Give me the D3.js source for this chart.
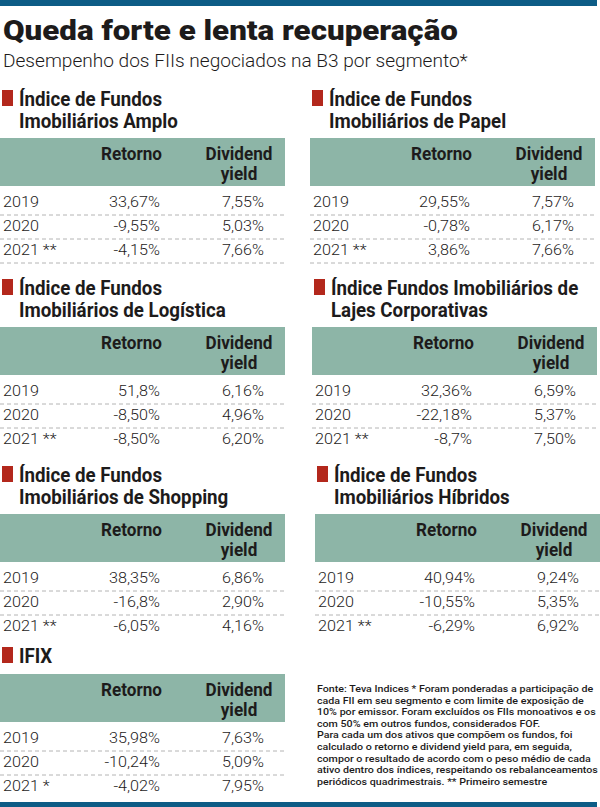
<!DOCTYPE html>
<html>
<head>
<meta charset="utf-8">
<script src="https://cdn.jsdelivr.net/npm/d3@7"></script>
<style>
	body { margin: 0; background: #fff; }
	svg text { fill: #1d1b1b; font-family: Roboto, "Noto Sans", sans-serif; }
	.title { font-size: 27px; font-weight: 900; }
	.sub { font-size: 19px; font-weight: 300; }
	.head { font-size: 19.5px; font-weight: 700; }
	.colh { font-size: 18px; font-weight: 700; }
	.cell { font-size: 15.5px; font-weight: 300; }
	.note { font-size: 9.9px; font-weight: 500; }
</style>
</head>
<body>
<svg id="chart" width="600" height="807"></svg>
<script>
'use strict';

// data
var years = ['2019', '2020', '2021 **'];
var yearsIfix = ['2019', '2020', '2021 *'];
var columns = ['Retorno', 'Dividend yield'];

var titleAmplo = ['Índice de Fundos', 'Imobiliários Amplo'];
var retAmplo = ['33,67%', '-9,55%', '-4,15%'];
var dyAmplo = ['7,55%', '5,03%', '7,66%'];

var titlePapel = ['Índice de Fundos', 'Imobiliários de Papel'];
var retPapel = ['29,55%', '-0,78%', '3,86%'];
var dyPapel = ['7,57%', '6,17%', '7,66%'];

var titleLogistica = ['Índice de Fundos', 'Imobiliários de Logística'];
var retLogistica = ['51,8%', '-8,50%', '-8,50%'];
var dyLogistica = ['6,16%', '4,96%', '6,20%'];

var titleLajes = ['Índice Fundos Imobiliários de', 'Lajes Corporativas'];
var retLajes = ['32,36%', '-22,18%', '-8,7%'];
var dyLajes = ['6,59%', '5,37%', '7,50%'];

var titleShopping = ['Índice de Fundos', 'Imobiliários de Shopping'];
var retShopping = ['38,35%', '-16,8%', '-6,05%'];
var dyShopping = ['6,86%', '2,90%', '4,16%'];

var titleHibridos = ['Índice de Fundos', 'Imobiliários Híbridos'];
var retHibridos = ['40,94%', '-10,55%', '-6,29%'];
var dyHibridos = ['9,24%', '5,35%', '6,92%'];

var titleIfix = ['IFIX'];
var retIfix = ['35,98%', '-10,24%', '-4,02%'];
var dyIfix = ['7,63%', '5,09%', '7,95%'];

var notes = [
	'Fonte: Teva Indices * Foram ponderadas a participação de',
	'cada FII em seu segmento e com limite de exposição de',
	'10% por emissor. Foram excluídos os FIIs monoativos e os',
	'com 50% em outros fundos, considerados FOF.',
	'Para cada um dos ativos que compõem os fundos, foi',
	'calculado o retorno e dividend yield para, em seguida,',
	'compor o resultado de acordo com o peso médio de cada',
	'ativo dentro dos índices, respeitando os rebalanceamentos',
	'periódicos quadrimestrais. ** Primeiro semestre'
];

var panels = [
	{ title: titleAmplo, ret: retAmplo, dy: dyAmplo, years: years },
	{ title: titlePapel, ret: retPapel, dy: dyPapel, years: years },
	{ title: titleLogistica, ret: retLogistica, dy: dyLogistica, years: years },
	{ title: titleLajes, ret: retLajes, dy: dyLajes, years: years },
	{ title: titleShopping, ret: retShopping, dy: dyShopping, years: years },
	{ title: titleHibridos, ret: retHibridos, dy: dyHibridos, years: years },
	{ title: titleIfix, ret: retIfix, dy: dyIfix, years: yearsIfix }
];

// layout (where each table sits)
var layout = [
	{ x0: 0, top: 138, lastRule: true },
	{ x0: 310, top: 138, lastRule: true },
	{ x0: 0, top: 327 },
	{ x0: 312, top: 327 },
	{ x0: 0, top: 514 },
	{ x0: 315, top: 514 },
	{ x0: 0, top: 674 }
];

var colors = {
	bar: '#0d5c86',
	head: '#8db5a7',
	mark: '#b3281c',
	rule: '#b4b4b4'
};

var svg = d3.select('#chart');

// horizontal squeeze so the installed fonts match the condensed newspaper faces
var fitRef = {
	title: ['Queda forte e lenta recuperação', 455],
	sub: ['Desempenho dos FIIs negociados na B3 por segmento*', 465],
	head: ['Índice de Fundos', 143],
	colh: ['Retorno', 61],
	cell: ['33,67%', 51],
	note: [notes[0], 276]
};
var kx = {};
Object.keys(fitRef).forEach(function(c) {
	var t = svg.append('text').attr('class', c).text(fitRef[c][0]);
	kx[c] = fitRef[c][1] / t.node().getComputedTextLength();
	t.remove();
});

var label = function(g, cls, x, y, str, anchor) {
	return g.append('text')
		.attr('class', cls)
		.attr('text-anchor', anchor || 'start')
		.attr('transform', 'translate(' + x + ',' + y + ') scale(' + kx[cls] + ',1)')
		.text(str);
};

// top and bottom bars
svg.append('rect').attr('x', 0).attr('y', 0).attr('width', 597).attr('height', 6).attr('fill', colors.bar);
svg.append('rect').attr('x', 0).attr('y', 802).attr('width', 597).attr('height', 5).attr('fill', colors.bar);

label(svg, 'title', 3, 40, 'Queda forte e lenta recuperação');
label(svg, 'sub', 3, 67, 'Desempenho dos FIIs negociados na B3 por segmento*');

var tableW = 285,
	headH = 48;

// columns: x offset inside a table
var colX = d3.scaleOrdinal()
	.domain(['year', 'Retorno', 'Dividend yield'])
	.range([3, 160, 264]);

panels.forEach(function(p, i) {
	var lay = layout[i],
		g = svg.append('g').attr('transform', 'translate(' + lay.x0 + ',0)'),
		bottom = lay.top + headH;

	var rowY = d3.scalePoint()
		.domain(p.years)
		.range([bottom + 21, bottom + 69]);

	// heading
	var line1 = p.title.length > 1 ? lay.top - 32 : lay.top - 11;
	g.append('rect')
		.attr('x', 2).attr('y', line1 - 16)
		.attr('width', 11).attr('height', 16)
		.attr('fill', colors.mark);
	p.title.forEach(function(t, j) {
		label(g, 'head', 19, line1 + j * 22, t);
	});

	// column header band
	g.append('rect')
		.attr('x', 0).attr('y', lay.top)
		.attr('width', tableW).attr('height', headH)
		.attr('fill', colors.head);
	label(g, 'colh', colX('Retorno') + 2, lay.top + 22, columns[0], 'end');
	var dyc = colX('Dividend yield') - 25;
	label(g, 'colh', dyc, lay.top + 22, 'Dividend', 'middle');
	label(g, 'colh', dyc, lay.top + 42, 'yield', 'middle');

	// rows
	p.years.forEach(function(y, r) {
		label(g, 'cell', colX('year'), rowY(y), y);
		label(g, 'cell', colX('Retorno'), rowY(y), p.ret[r], 'end');
		label(g, 'cell', colX('Dividend yield'), rowY(y), p.dy[r], 'end');
		if (r < p.years.length - 1 || lay.lastRule) {
			g.append('line')
				.attr('x1', 0).attr('x2', tableW)
				.attr('y1', rowY(y) + 8).attr('y2', rowY(y) + 8)
				.attr('stroke', colors.rule)
				.attr('stroke-width', 1)
				.attr('stroke-dasharray', '4,3');
		}
	});
});

// footnote as one wrapped paragraph
var noteText = label(svg, 'note', 317, 692, '');
noteText.selectAll('tspan')
	.data(notes)
	.enter()
	.append('tspan')
	.attr('x', 0)
	.attr('dy', function(d, i) { return i ? 11.6 : 0; })
	.text(function(d) { return d; });
</script>
</body>
</html>
